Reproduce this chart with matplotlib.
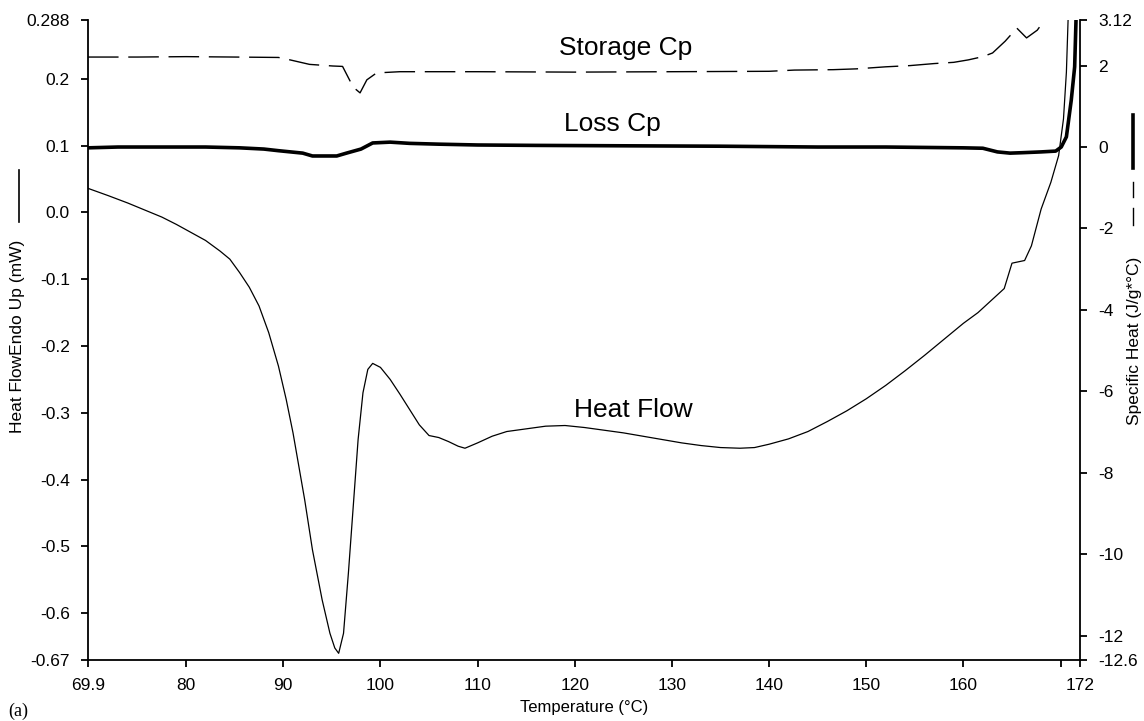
import numpy as np
import matplotlib
matplotlib.use('Agg')
import matplotlib.pyplot as plt
from matplotlib.lines import Line2D

plt.rcParams['font.family'] = ['Liberation Sans', 'DejaVu Sans']

# Heat flow (mW), left axis
T_hf = [69.9, 72, 74, 76, 77.5, 79, 80.5, 82, 83.5, 84.5, 85.5, 86.5, 87.5, 88.5,
        89.5, 90.3, 91, 91.6, 92.2, 93, 94, 94.8, 95.3, 95.7, 96.2, 96.7, 97.2, 97.7,
        98.2, 98.7, 99.2, 100, 101, 102, 103, 104, 105, 106, 107, 108, 108.7,
        110, 111.5, 113, 115, 117, 119, 121, 123, 125, 127, 129, 131, 133, 135,
        137, 138.5, 140, 142, 144, 146, 148, 150, 152, 154, 156, 158, 160, 161.5,
        163, 164.2, 165, 166.3, 167, 168, 169, 169.8, 170.3, 170.6, 170.8]
heat_flow = [0.036, 0.025, 0.014, 0.002, -0.007, -0.018, -0.030, -0.042, -0.058,
             -0.070, -0.090, -0.112, -0.140, -0.180, -0.230, -0.280, -0.330, -0.380,
             -0.430, -0.505, -0.580, -0.630, -0.652, -0.660, -0.630, -0.540, -0.440,
             -0.340, -0.270, -0.235, -0.226, -0.232, -0.250, -0.272, -0.295, -0.318,
             -0.334, -0.337, -0.343, -0.350, -0.353, -0.345, -0.335, -0.328, -0.324,
             -0.320, -0.319, -0.322, -0.326, -0.330, -0.335, -0.340, -0.345, -0.349,
             -0.352, -0.353, -0.352, -0.347, -0.339, -0.328, -0.313, -0.297, -0.279,
             -0.259, -0.237, -0.214, -0.190, -0.166, -0.150, -0.130, -0.114, -0.076,
             -0.072, -0.050, 0.005, 0.045, 0.085, 0.140, 0.210, 0.300]

# Storage Cp (J/g*C), right axis
T_st = [69.9, 75, 80, 85, 89.5, 90.7, 92.7, 95.1, 96.1, 97.2, 97.9, 98.6, 99.6,
        102, 110, 120, 130, 140, 142.6, 146.6, 149, 152, 154.5, 157, 159, 160.5,
        162, 163, 164.3, 165.5, 166.5, 167.6, 168.6]
storage_cp = [2.21, 2.21, 2.22, 2.21, 2.20, 2.14, 2.03, 1.99, 1.98, 1.47, 1.33, 1.65,
              1.82, 1.85, 1.85, 1.84, 1.85, 1.86, 1.89, 1.90, 1.92, 1.97, 2.0, 2.05,
              2.08, 2.14, 2.22, 2.31, 2.6, 2.92, 2.68, 2.87, 3.2]

# Loss Cp (J/g*C), right axis
T_loss = [69.9, 73, 78, 82, 85.5, 88, 89.5, 92, 93, 95.5, 96.5, 98, 99.2, 101, 103,
          106, 110, 116, 125, 135, 145, 152, 160, 162, 163.5, 164.8, 166, 168, 169.5,
          170.07, 170.6, 171.1, 171.45, 171.6]
loss_cp = [-0.02, 0.0, 0.0, 0.0, -0.02, -0.05, -0.09, -0.15, -0.22, -0.22, -0.15,
           -0.05, 0.1, 0.12, 0.09, 0.07, 0.05, 0.04, 0.03, 0.02, 0.0, 0.0, -0.02,
           -0.03, -0.12, -0.15, -0.14, -0.12, -0.1, 0.0, 0.25, 1.15, 1.97, 3.2]

x_ticks = [69.9, 80, 90, 100, 110, 120, 130, 140, 150, 160, 170, 172]
x_labels = ['69.9', '80', '90', '100', '110', '120', '130', '140', '150', '160', '', '172']
left_ticks = [0.288, 0.2, 0.1, 0.0, -0.1, -0.2, -0.3, -0.4, -0.5, -0.6, -0.67]
left_labels = ['0.288', '0.2', '0.1', '0.0', '-0.1', '-0.2', '-0.3', '-0.4', '-0.5', '-0.6', '-0.67']
right_ticks = [3.12, 2, 0, -2, -4, -6, -8, -10, -12, -12.6]
right_labels = ['3.12', '2', '0', '-2', '-4', '-6', '-8', '-10', '-12', '-12.6']

W, H = 1144, 721
fig = plt.figure(figsize=(W / 100, H / 100), dpi=100)
ax = fig.add_axes([88 / W, 61 / H, 992 / W, 640 / H])
ax2 = ax.twinx()

ax.plot(T_hf, heat_flow, color='black', lw=0.9)
ax2.plot(T_st, storage_cp, color='black', lw=1.0, dashes=(22, 7))
ax2.plot(T_loss, loss_cp, color='black', lw=2.6)

ax.set_xlim(69.9, 172)
ax.set_ylim(-0.67, 0.288)
ax2.set_ylim(-12.6, 3.12)

ax.set_xticks(x_ticks)
ax.set_xticklabels(x_labels)
ax.set_yticks(left_ticks)
ax.set_yticklabels(left_labels)
ax2.set_yticks(right_ticks)
ax2.set_yticklabels(right_labels)

for a in (ax, ax2):
    a.spines['top'].set_visible(False)
    a.tick_params(direction='out', length=5, width=1.3, labelsize=12.5, pad=8, color='black')
    for s in a.spines.values():
        s.set_linewidth(1.3)
ax.spines['right'].set_visible(False)
ax2.spines['left'].set_visible(False)
ax2.spines['bottom'].set_visible(False)

ax.set_xlabel('Temperature (°C)', fontsize=12, labelpad=5)

ax.text(125.25, 0.246, 'Storage Cp', fontsize=19, ha='center', va='center')
ax.text(123.9, 0.132, 'Loss Cp', fontsize=19, ha='center', va='center')
ax.text(126.0, -0.296, 'Heat Flow', fontsize=19, ha='center', va='center')

# axis titles with line keys
fig.text(18 / W, 1 - 336 / H, 'Heat FlowEndo Up (mW)', rotation=90, fontsize=12.5,
         ha='center', va='center')
fig.add_artist(Line2D([19 / W, 19 / W], [1 - 170 / H, 1 - 222 / H], color='black', lw=1.2))

fig.text(1135 / W, 1 - 341 / H, 'Specific Heat (J/g*°C)', rotation=90, fontsize=12.5,
         ha='center', va='center')
fig.add_artist(Line2D([1133 / W, 1133 / W], [1 - 115 / H, 1 - 168 / H], color='black', lw=2.6))
fig.add_artist(Line2D([1133 / W, 1133 / W], [1 - 182 / H, 1 - 197 / H], color='black', lw=1.0))
fig.add_artist(Line2D([1133 / W, 1133 / W], [1 - 208 / H, 1 - 225 / H], color='black', lw=1.0))

fig.text(8 / W, 1 - 711 / H, '(a)', fontsize=13, family='Liberation Serif', ha='left', va='center')

fig.savefig('out.png', dpi=100)
